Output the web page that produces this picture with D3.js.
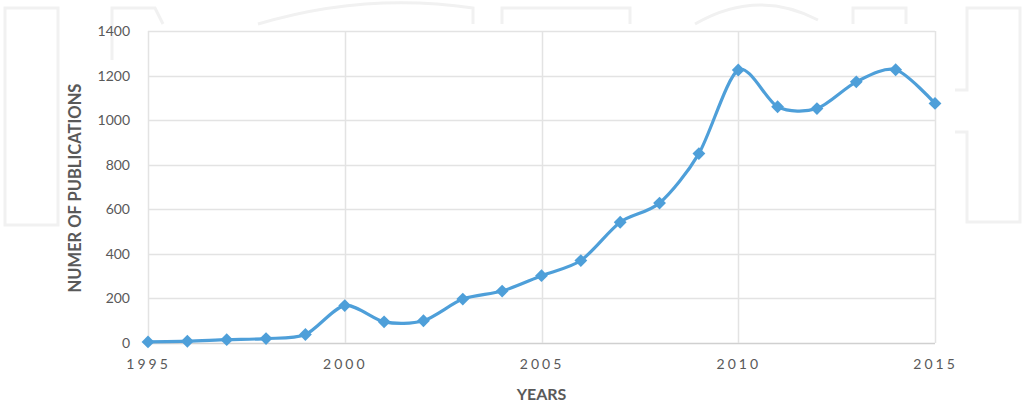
<!DOCTYPE html>
<html>
<head>
<meta charset="utf-8">
<script src="https://cdn.jsdelivr.net/npm/d3@7"></script>
<style>
  html, body { margin: 0; padding: 0; background: #fff; }
  svg text { font-family: Lato, "Open Sans", sans-serif; fill: #595959; }
</style>
</head>
<body>
<div class="chart_area"></div>
<script>
// data
var years = [1995, 1996, 1997, 1998, 1999, 2000, 2001, 2002, 2003, 2004, 2005,
             2006, 2007, 2008, 2009, 2010, 2011, 2012, 2013, 2014, 2015];
var publications = [5, 8, 15, 20, 38, 168, 95, 100, 197, 233, 302,
                    370, 542, 628, 850, 1225, 1060, 1052, 1172, 1226, 1075];
var yTicks = [0, 200, 400, 600, 800, 1000, 1200, 1400];
var xTicks = [1995, 2000, 2005, 2010, 2015];
var yLabel = "NUMER OF PUBLICATIONS";
var xLabel = "YEARS";

var W = 1029, H = 402;
var margin = { top: 31, right: 94, bottom: 59, left: 148 },
    width = W - margin.left - margin.right,
    height = H - margin.top - margin.bottom;

var root = d3.select(".chart_area")
    .append("svg")
    .attr("width", W)
    .attr("height", H);

// faint watermark outlines in the background
var wm = root.append("g")
    .attr("fill", "none")
    .attr("stroke", "#f1f1f1")
    .attr("stroke-width", 3);
wm.append("path").attr("d", "M5,225 V8 H58 V225 Z");
wm.append("path").attr("d", "M112,60 V8 H155 L163,24");
wm.append("path").attr("d", "M258,24 Q365,-8 473,8 V24");
wm.append("path").attr("d", "M502,24 V8 H630 V24");
wm.append("path").attr("d", "M695,24 Q757,-12 818,20");
wm.append("path").attr("d", "M853,24 V8 H906 V24");
wm.append("path").attr("d", "M955,90 H967 V8 H1020 V222 H967 V132 H955");

var svg = root.append("g")
    .attr("transform", "translate(" + margin.left + "," + margin.top + ")");

var x = d3.scaleLinear()
    .domain([1995, 2015])
    .range([0, width]);

var y = d3.scaleLinear()
    .domain([0, 1400])
    .range([height, 0]);

// horizontal grid
svg.append("g")
    .selectAll("line")
    .data(yTicks)
    .enter()
    .append("line")
    .attr("x1", 0)
    .attr("x2", width)
    .attr("y1", function(d) { return Math.round(y(d)) + 0.5; })
    .attr("y2", function(d) { return Math.round(y(d)) + 0.5; })
    .style("stroke", function(d) { return d == 0 ? "#d0d0d0" : "#e3e3e3"; })
    .style("stroke-width", 1.5);

// vertical grid
svg.append("g")
    .selectAll("line")
    .data(xTicks)
    .enter()
    .append("line")
    .attr("x1", function(d) { return Math.round(x(d)) + 0.5; })
    .attr("x2", function(d) { return Math.round(x(d)) + 0.5; })
    .attr("y1", 0)
    .attr("y2", height)
    .style("stroke", "#e3e3e3")
    .style("stroke-width", 1.5);

// y axis (labels only)
var yAxis = svg.append("g")
    .call(d3.axisLeft(y).tickValues(yTicks).tickFormat(d3.format("d")).tickSize(0).tickPadding(18));
yAxis.select(".domain").remove();
yAxis.selectAll("text")
    .style("font-size", "14px")
    .style("fill", "#595959");

// x axis (labels only, spaced out like the original)
var xAxis = svg.append("g")
    .attr("transform", "translate(0," + height + ")")
    .call(d3.axisBottom(x).tickValues(xTicks).tickFormat(d3.format("d")).tickSize(0).tickPadding(16));
xAxis.select(".domain").remove();
xAxis.selectAll("text")
    .style("font-size", "14px")
    .style("letter-spacing", "3px")
    .style("fill", "#595959");

// axis titles
svg.append("text")
    .attr("transform", "translate(-71," + (height / 2 + 1) + ") rotate(-90)")
    .attr("text-anchor", "middle")
    .attr("dominant-baseline", "middle")
    .style("font-size", "16.5px")
    .style("font-weight", "bold")
    .text(yLabel);

svg.append("text")
    .attr("x", width / 2)
    .attr("y", height + 57)
    .attr("text-anchor", "middle")
    .style("font-size", "16px")
    .style("font-weight", "bold")
    .text(xLabel);

var series = years.map(function(d, i) { return { year: d, value: publications[i] }; });

// smoothed line
svg.append("path")
    .datum(series)
    .attr("d", d3.line()
        .curve(d3.curveCardinal.tension(0.15))
        .x(function(d) { return x(d.year); })
        .y(function(d) { return y(d.value); })
    )
    .style("fill", "none")
    .style("stroke", "#4e9fd9")
    .style("stroke-width", 3.2);

// diamond markers
svg.append("g")
    .selectAll("path")
    .data(series)
    .enter()
    .append("path")
    .attr("d", d3.symbol().type(d3.symbolDiamond2).size(105))
    .attr("transform", function(d) { return "translate(" + x(d.year) + "," + y(d.value) + ")"; })
    .attr("fill", "#4e9fd9");
</script>
</body>
</html>
